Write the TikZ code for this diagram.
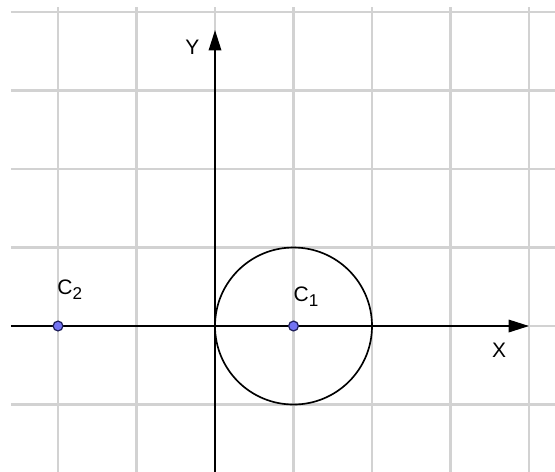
\documentclass[tikz,border=0pt]{standalone}
\usepackage{fontspec}
\setmainfont{Liberation Sans}
\usetikzlibrary{arrows.meta, positioning}
\definecolor{cgrid}{HTML}{D2D2D2}
\definecolor{cpoint}{HTML}{7373F2}
\definecolor{cedge}{HTML}{1F1F5C}
\newcommand{\sub}[1]{\raisebox{-0.45ex}{\fontsize{6.2}{7}\selectfont #1}}
\tikzset{
  every picture/.style={font=\fontsize{7.6}{9}\selectfont, line width=0.6pt},
  gridline/.style={draw=cgrid, line width=0.75pt},
  axis/.style={-{Triangle[length=2.6mm, width=1.6mm]}, draw=black, line width=0.6pt},
  pnt/.style={circle, draw=cedge, fill=cpoint, line width=0.45pt, inner sep=0pt, minimum size=1.25mm},
  lbl/.style={inner sep=1pt},
}

\begin{document}
\begin{tikzpicture}
  \useasboundingbox (-2.739,-1.847) rectangle (4.331,4.153);
  % grid
  \foreach \x in {-2,...,4}
    \draw[gridline] (\x,-1.9) -- (\x,4.06);
  \foreach \y in {-1,...,4}
    \draw[gridline] (-2.6,\y) -- (4.4,\y);
  % axes
  \coordinate (xs) at (-2.6,0);
  \coordinate (xe) at (4.0,0);
  \coordinate (ys) at (0,-1.9);
  \coordinate (ye) at (0,3.77);
  \draw[axis] (xs) -- (xe);
  \draw[axis] (ys) -- (ye);
  \node[lbl] (xl) at (3.62,-0.31) {X};
  \node[lbl] (yl) at (-0.29,3.55) {Y};
  % circle round C1 and the two points
  \coordinate (o) at (0,0);
  \draw (1,0) circle (1);
  \node[pnt] (c1) at (1,0) {};
  \node[pnt] (c2) at (-2,0) {};
  \node[lbl] (c1l) at (1.16,0.37) {C\sub{1}};
  \node[lbl] (c2l) at (-1.85,0.46) {C\sub{2}};
\end{tikzpicture}
\end{document}
